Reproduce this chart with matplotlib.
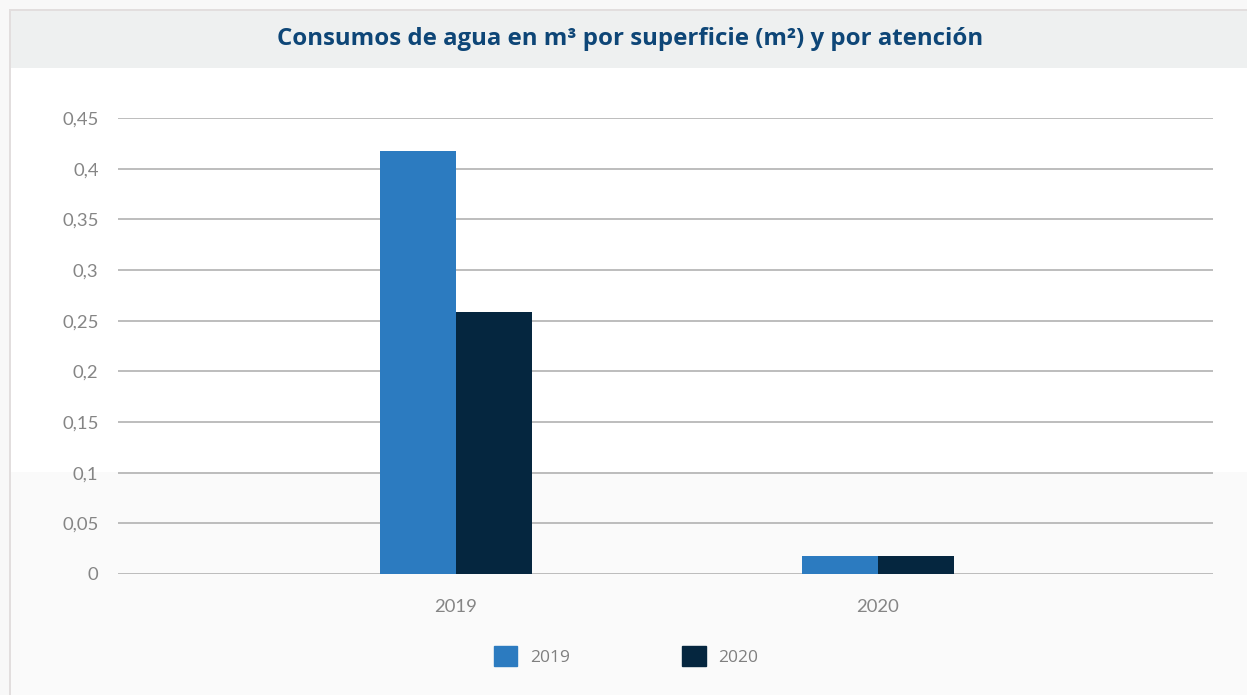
import matplotlib.pyplot as plt
from matplotlib.patches import Rectangle, Patch
from matplotlib.ticker import FuncFormatter, MultipleLocator
import numpy as np

# consumo de agua (m3) por superficie y por atención
categories = ["2019", "2020"]
series_names = ["2019", "2020"]
values_2019 = [0.417, 0.018]
values_2020 = [0.259, 0.018]

W, H = 1247, 695
fig = plt.figure(figsize=(W / 100, H / 100), dpi=100)
fig.patch.set_facecolor("#f8f8f8")

def px_rect(x0, y0, x1, y1, color):
    # rectangle given in pixel coords measured from top-left
    fig.patches.append(Rectangle((x0 / W, 1 - y1 / H), (x1 - x0) / W, (y1 - y0) / H,
                                 transform=fig.transFigure, facecolor=color,
                                 edgecolor="none", zorder=-10))

# panel: border, title band, white plot area, light lower band
px_rect(9, 9, W, H, "#e2dede")
px_rect(11, 11, W, H, "#fafafa")
px_rect(11, 11, W, 68, "#eef0f0")
px_rect(11, 68, W, 472, "#ffffff")

fig.text(630 / W, 1 - 39 / H, "Consumos de agua en m³ por superficie (m²) y por atención",
         ha="center", va="center", fontsize=17.3, fontweight="bold",
         family="Open Sans", color="#0e4677")

ax = fig.add_axes([118 / W, 121 / H, (1213 - 118) / W, (574 - 118) / H])
ax.set_zorder(5)
ax.set_facecolor("none")

x = np.arange(len(categories))
bw = 0.18
ax.bar(x - bw / 2, values_2019, bw, color="#2c7bc0", label=series_names[0], zorder=3)
ax.bar(x + bw / 2, values_2020, bw, color="#05263f", label=series_names[1], zorder=3)

ax.set_xlim(-0.8, 1.794)
ax.set_ylim(0, 0.45)
ax.yaxis.set_major_locator(MultipleLocator(0.05))
ax.yaxis.set_major_formatter(FuncFormatter(lambda v, p: f"{round(v, 2):g}".replace(".", ",")))
ax.set_xticks(x)
ax.set_xticklabels(categories)
ax.grid(axis="y", color="#ababab", linewidth=1.1, zorder=1)
ax.set_axisbelow(True)
for s in ax.spines.values():
    s.set_visible(False)
ax.tick_params(axis="both", length=0, labelsize=13.3, labelcolor="#858585")
ax.tick_params(axis="y", pad=14)
ax.tick_params(axis="x", pad=18)
for lab in ax.get_xticklabels() + ax.get_yticklabels():
    lab.set_family("Lato")

handles = [Patch(color="#2c7bc0"), Patch(color="#05263f")]
leg = fig.legend(handles, series_names, loc="center", bbox_to_anchor=(626 / W, 1 - 656 / H),
                 ncol=2, frameon=False, handlelength=1.35, handleheight=1.35,
                 handletextpad=0.7, columnspacing=6.5,
                 prop={"family": "Open Sans", "size": 12.5})
for t in leg.get_texts():
    t.set_color("#7f7f7f")

fig.savefig("out.png", dpi=100)
